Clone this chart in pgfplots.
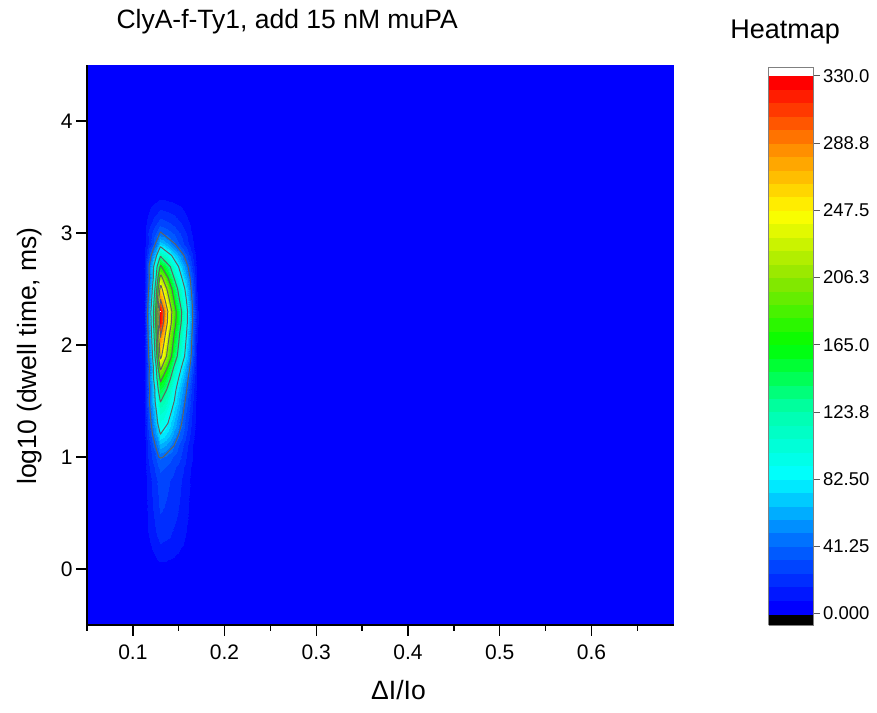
\documentclass[border=0pt]{standalone}
\usepackage{fontspec}
\setmainfont{Liberation Sans}
\usepackage{pgfplots}
\pgfplotsset{compat=1.18}
\usepackage{pgfplotstable}

\pgfplotsset{
colormap={originbands}{
rgb255(0pt)=(0,0,0)
rgb255(6.5pt)=(0,0,255)
rgb255(15.25pt)=(0,23,255)
rgb255(23.5pt)=(0,45,255)
rgb255(31.75pt)=(0,68,255)
rgb255(40pt)=(0,90,255)
rgb255(48.25pt)=(0,114,255)
rgb255(56.5pt)=(0,143,255)
rgb255(64.75pt)=(0,173,255)
rgb255(73pt)=(0,203,255)
rgb255(81.25pt)=(0,233,255)
rgb255(89.5pt)=(0,255,251)
rgb255(97.75pt)=(0,255,233)
rgb255(106pt)=(0,255,216)
rgb255(114.25pt)=(0,255,198)
rgb255(122.5pt)=(0,255,181)
rgb255(130.75pt)=(0,255,157)
rgb255(139pt)=(0,255,122)
rgb255(147.25pt)=(0,255,87)
rgb255(155.5pt)=(0,255,52)
rgb255(163.75pt)=(0,255,18)
rgb255(172pt)=(14,252,0)
rgb255(180.25pt)=(43,247,0)
rgb255(188.5pt)=(72,242,0)
rgb255(196.75pt)=(101,237,0)
rgb255(205pt)=(129,232,0)
rgb255(213.25pt)=(155,233,0)
rgb255(221.5pt)=(178,238,0)
rgb255(229.75pt)=(202,243,0)
rgb255(238pt)=(226,249,0)
rgb255(246.25pt)=(249,254,0)
rgb255(254.5pt)=(255,237,0)
rgb255(262.75pt)=(255,214,0)
rgb255(271pt)=(255,190,0)
rgb255(279.25pt)=(255,167,0)
rgb255(287.5pt)=(255,143,0)
rgb255(295.75pt)=(255,115,0)
rgb255(304pt)=(255,86,0)
rgb255(312.25pt)=(255,57,0)
rgb255(320.5pt)=(255,29,0)
rgb255(328.75pt)=(255,0,0)
rgb255(337pt)=(255,255,255)
rgb255(342.5pt)=(255,255,255)
},
contourline/.style={draw=black!62, line width=1pt, line join=round, solid, mark=none},
}

\pgfplotstableread[row sep=\\]{
x y z\\
0.05 -0.5 0\\ 0.106 -0.5 0\\ 0.112 -0.5 0\\ 0.117 -0.5 0\\ 0.121 -0.5 0\\ 0.125 -0.5 0\\ 0.128 -0.5 0\\ 0.130 -0.5 0\\ 0.1335 -0.5 0\\ 0.138 -0.5 0\\ 0.145 -0.5 0\\ 0.151 -0.5 0\\ 0.158 -0.5 0\\ 0.164 -0.5 0\\ 0.170 -0.5 0\\ 0.176 -0.5 0\\ 0.69 -0.5 0\\
0.05 -0.1 0\\ 0.106 -0.1 0\\ 0.112 -0.1 0\\ 0.117 -0.1 0\\ 0.121 -0.1 0\\ 0.125 -0.1 0\\ 0.128 -0.1 0\\ 0.130 -0.1 0\\ 0.1335 -0.1 0\\ 0.138 -0.1 0\\ 0.145 -0.1 0\\ 0.151 -0.1 0\\ 0.158 -0.1 0\\ 0.164 -0.1 0\\ 0.170 -0.1 0\\ 0.176 -0.1 0\\ 0.69 -0.1 0\\
0.05 0.1 0\\ 0.106 0.1 0\\ 0.112 0.1 1\\ 0.117 0.1 4\\ 0.121 0.1 6\\ 0.125 0.1 8\\ 0.128 0.1 10\\ 0.130 0.1 10\\ 0.1335 0.1 10\\ 0.138 0.1 9\\ 0.145 0.1 8\\ 0.151 0.1 6\\ 0.158 0.1 4\\ 0.164 0.1 2\\ 0.170 0.1 1\\ 0.176 0.1 0\\ 0.69 0.1 0\\
0.05 0.3 0\\ 0.106 0.3 0\\ 0.112 0.3 2\\ 0.117 0.3 8\\ 0.121 0.3 12\\ 0.125 0.3 16\\ 0.128 0.3 19\\ 0.130 0.3 20\\ 0.1335 0.3 19\\ 0.138 0.3 18\\ 0.145 0.3 15\\ 0.151 0.3 12\\ 0.158 0.3 8\\ 0.164 0.3 4\\ 0.170 0.3 1\\ 0.176 0.3 0\\ 0.69 0.3 0\\
0.05 0.5 0\\ 0.106 0.5 0\\ 0.112 0.5 3\\ 0.117 0.5 10\\ 0.121 0.5 15\\ 0.125 0.5 20\\ 0.128 0.5 24\\ 0.130 0.5 25\\ 0.1335 0.5 24\\ 0.138 0.5 22\\ 0.145 0.5 19\\ 0.151 0.5 15\\ 0.158 0.5 10\\ 0.164 0.5 5\\ 0.170 0.5 1\\ 0.176 0.5 0\\ 0.69 0.5 0\\
0.05 0.7 0\\ 0.106 0.7 0\\ 0.112 0.7 3\\ 0.117 0.7 11\\ 0.121 0.7 17\\ 0.125 0.7 22\\ 0.128 0.7 27\\ 0.130 0.7 28\\ 0.1335 0.7 27\\ 0.138 0.7 25\\ 0.145 0.7 21\\ 0.151 0.7 17\\ 0.158 0.7 11\\ 0.164 0.7 6\\ 0.170 0.7 1\\ 0.176 0.7 0\\ 0.69 0.7 0\\
0.05 0.8 0\\ 0.106 0.8 0\\ 0.112 0.8 3\\ 0.117 0.8 12\\ 0.121 0.8 18\\ 0.125 0.8 24\\ 0.128 0.8 29\\ 0.130 0.8 30\\ 0.1335 0.8 29\\ 0.138 0.8 26\\ 0.145 0.8 23\\ 0.151 0.8 18\\ 0.158 0.8 12\\ 0.164 0.8 6\\ 0.170 0.8 2\\ 0.176 0.8 0\\ 0.69 0.8 0\\
0.05 0.9 0\\ 0.106 0.9 0\\ 0.112 0.9 4\\ 0.117 0.9 14\\ 0.121 0.9 21\\ 0.125 0.9 28\\ 0.128 0.9 33\\ 0.130 0.9 35\\ 0.1335 0.9 33\\ 0.138 0.9 31\\ 0.145 0.9 26\\ 0.151 0.9 21\\ 0.158 0.9 14\\ 0.164 0.9 7\\ 0.170 0.9 2\\ 0.176 0.9 0\\ 0.69 0.9 0\\
0.05 1.0 0\\ 0.106 1.0 0\\ 0.112 1.0 4\\ 0.117 1.0 17\\ 0.121 1.0 26\\ 0.125 1.0 34\\ 0.128 1.0 41\\ 0.130 1.0 43\\ 0.1335 1.0 41\\ 0.138 1.0 38\\ 0.145 1.0 32\\ 0.151 1.0 26\\ 0.158 1.0 17\\ 0.164 1.0 9\\ 0.170 1.0 2\\ 0.176 1.0 0\\ 0.69 1.0 0\\
0.05 1.1 0\\ 0.106 1.1 0\\ 0.112 1.1 3\\ 0.117 1.1 17\\ 0.121 1.1 30\\ 0.125 1.1 43\\ 0.128 1.1 56\\ 0.130 1.1 62\\ 0.1335 1.1 59\\ 0.138 1.1 53\\ 0.145 1.1 41\\ 0.151 1.1 30\\ 0.158 1.1 19\\ 0.164 1.1 9\\ 0.170 1.1 2\\ 0.176 1.1 0\\ 0.69 1.1 0\\
0.05 1.2 0\\ 0.106 1.2 0\\ 0.112 1.2 4\\ 0.117 1.2 23\\ 0.121 1.2 39\\ 0.125 1.2 57\\ 0.128 1.2 74\\ 0.130 1.2 82\\ 0.1335 1.2 78\\ 0.138 1.2 70\\ 0.145 1.2 54\\ 0.151 1.2 39\\ 0.158 1.2 25\\ 0.164 1.2 12\\ 0.170 1.2 3\\ 0.176 1.2 0\\ 0.69 1.2 0\\
0.05 1.3 0\\ 0.106 1.3 0\\ 0.112 1.3 5\\ 0.117 1.3 27\\ 0.121 1.3 47\\ 0.125 1.3 69\\ 0.128 1.3 88\\ 0.130 1.3 98\\ 0.1335 1.3 93\\ 0.138 1.3 83\\ 0.145 1.3 65\\ 0.151 1.3 47\\ 0.158 1.3 29\\ 0.164 1.3 15\\ 0.170 1.3 4\\ 0.176 1.3 0\\ 0.69 1.3 0\\
0.05 1.4 0\\ 0.106 1.4 0\\ 0.112 1.4 6\\ 0.117 1.4 31\\ 0.121 1.4 53\\ 0.125 1.4 77\\ 0.128 1.4 99\\ 0.130 1.4 110\\ 0.1335 1.4 105\\ 0.138 1.4 94\\ 0.145 1.4 73\\ 0.151 1.4 53\\ 0.158 1.4 33\\ 0.164 1.4 17\\ 0.170 1.4 4\\ 0.176 1.4 0\\ 0.69 1.4 0\\
0.05 1.5 0\\ 0.106 1.5 0\\ 0.112 1.5 6\\ 0.117 1.5 35\\ 0.121 1.5 60\\ 0.125 1.5 88\\ 0.128 1.5 113\\ 0.130 1.5 125\\ 0.1335 1.5 119\\ 0.138 1.5 106\\ 0.145 1.5 83\\ 0.151 1.5 60\\ 0.158 1.5 38\\ 0.164 1.5 19\\ 0.170 1.5 5\\ 0.176 1.5 0\\ 0.69 1.5 0\\
0.05 1.6 0\\ 0.106 1.6 0\\ 0.112 1.6 5\\ 0.117 1.6 32\\ 0.121 1.6 58\\ 0.125 1.6 91\\ 0.128 1.6 127\\ 0.130 1.6 148\\ 0.1335 1.6 137\\ 0.138 1.6 119\\ 0.145 1.6 90\\ 0.151 1.6 67\\ 0.158 1.6 44\\ 0.164 1.6 22\\ 0.170 1.6 5\\ 0.176 1.6 0\\ 0.69 1.6 0\\
0.05 1.7 0\\ 0.106 1.7 0\\ 0.112 1.7 6\\ 0.117 1.7 37\\ 0.121 1.7 67\\ 0.125 1.7 106\\ 0.128 1.7 148\\ 0.130 1.7 172\\ 0.1335 1.7 159\\ 0.138 1.7 138\\ 0.145 1.7 105\\ 0.151 1.7 77\\ 0.158 1.7 51\\ 0.164 1.7 26\\ 0.170 1.7 6\\ 0.176 1.7 0\\ 0.69 1.7 0\\
0.05 1.8 0\\ 0.106 1.8 0\\ 0.112 1.8 4\\ 0.117 1.8 32\\ 0.121 1.8 65\\ 0.125 1.8 114\\ 0.128 1.8 176\\ 0.130 1.8 215\\ 0.1335 1.8 194\\ 0.138 1.8 163\\ 0.145 1.8 120\\ 0.151 1.8 90\\ 0.158 1.8 62\\ 0.164 1.8 32\\ 0.170 1.8 6\\ 0.176 1.8 0\\ 0.69 1.8 0\\
0.05 1.9 0\\ 0.106 1.9 0\\ 0.112 1.9 5\\ 0.117 1.9 39\\ 0.121 1.9 77\\ 0.125 1.9 137\\ 0.128 1.9 212\\ 0.130 1.9 258\\ 0.1335 1.9 232\\ 0.138 1.9 196\\ 0.145 1.9 144\\ 0.151 1.9 108\\ 0.158 1.9 75\\ 0.164 1.9 39\\ 0.170 1.9 8\\ 0.176 1.9 0\\ 0.69 1.9 0\\
0.05 2.0 0\\ 0.106 2.0 0\\ 0.112 2.0 6\\ 0.117 2.0 41\\ 0.121 2.0 83\\ 0.125 2.0 146\\ 0.128 2.0 226\\ 0.130 2.0 275\\ 0.1335 2.0 248\\ 0.138 2.0 209\\ 0.145 2.0 154\\ 0.151 2.0 116\\ 0.158 2.0 80\\ 0.164 2.0 41\\ 0.170 2.0 8\\ 0.176 2.0 0\\ 0.69 2.0 0\\
0.05 2.1 0\\ 0.106 2.1 0\\ 0.112 2.1 6\\ 0.117 2.1 44\\ 0.121 2.1 89\\ 0.125 2.1 156\\ 0.128 2.1 242\\ 0.130 2.1 295\\ 0.1335 2.1 266\\ 0.138 2.1 224\\ 0.145 2.1 165\\ 0.151 2.1 124\\ 0.158 2.1 86\\ 0.164 2.1 44\\ 0.170 2.1 9\\ 0.176 2.1 0\\ 0.69 2.1 0\\
0.05 2.2 0\\ 0.106 2.2 0\\ 0.112 2.2 6\\ 0.117 2.2 48\\ 0.121 2.2 96\\ 0.125 2.2 170\\ 0.128 2.2 262\\ 0.130 2.2 324\\ 0.1335 2.2 288\\ 0.138 2.2 243\\ 0.145 2.2 179\\ 0.151 2.2 134\\ 0.158 2.2 93\\ 0.164 2.2 48\\ 0.170 2.2 10\\ 0.176 2.2 0\\ 0.69 2.2 0\\
0.05 2.3 0\\ 0.106 2.3 0\\ 0.112 2.3 7\\ 0.117 2.3 49\\ 0.121 2.3 98\\ 0.125 2.3 173\\ 0.128 2.3 267\\ 0.130 2.3 330\\ 0.1335 2.3 293\\ 0.138 2.3 248\\ 0.145 2.3 183\\ 0.151 2.3 137\\ 0.158 2.3 95\\ 0.164 2.3 49\\ 0.170 2.3 10\\ 0.176 2.3 0\\ 0.69 2.3 0\\
0.05 2.4 0\\ 0.106 2.4 0\\ 0.112 2.4 6\\ 0.117 2.4 44\\ 0.121 2.4 88\\ 0.125 2.4 155\\ 0.128 2.4 239\\ 0.130 2.4 292\\ 0.1335 2.4 263\\ 0.138 2.4 222\\ 0.145 2.4 164\\ 0.151 2.4 123\\ 0.158 2.4 85\\ 0.164 2.4 44\\ 0.170 2.4 9\\ 0.176 2.4 0\\ 0.69 2.4 0\\
0.05 2.5 0\\ 0.106 2.5 0\\ 0.112 2.5 5\\ 0.117 2.5 39\\ 0.121 2.5 79\\ 0.125 2.5 139\\ 0.128 2.5 215\\ 0.130 2.5 262\\ 0.1335 2.5 236\\ 0.138 2.5 199\\ 0.145 2.5 147\\ 0.151 2.5 110\\ 0.158 2.5 76\\ 0.164 2.5 39\\ 0.170 2.5 8\\ 0.176 2.5 0\\ 0.69 2.5 0\\
0.05 2.6 0\\ 0.106 2.6 0\\ 0.112 2.6 4\\ 0.117 2.6 33\\ 0.121 2.6 66\\ 0.125 2.6 117\\ 0.128 2.6 180\\ 0.130 2.6 220\\ 0.1335 2.6 198\\ 0.138 2.6 167\\ 0.145 2.6 123\\ 0.151 2.6 92\\ 0.158 2.6 64\\ 0.164 2.6 33\\ 0.170 2.6 7\\ 0.176 2.6 0\\ 0.69 2.6 0\\
0.05 2.7 0\\ 0.106 2.7 0\\ 0.112 2.7 6\\ 0.117 2.7 37\\ 0.121 2.7 66\\ 0.125 2.7 105\\ 0.128 2.7 146\\ 0.130 2.7 170\\ 0.1335 2.7 157\\ 0.138 2.7 137\\ 0.145 2.7 104\\ 0.151 2.7 77\\ 0.158 2.7 50\\ 0.164 2.7 26\\ 0.170 2.7 6\\ 0.176 2.7 0\\ 0.69 2.7 0\\
0.05 2.8 0\\ 0.106 2.8 0\\ 0.112 2.8 4\\ 0.117 2.8 26\\ 0.121 2.8 47\\ 0.125 2.8 74\\ 0.128 2.8 103\\ 0.130 2.8 120\\ 0.1335 2.8 111\\ 0.138 2.8 97\\ 0.145 2.8 73\\ 0.151 2.8 54\\ 0.158 2.8 35\\ 0.164 2.8 18\\ 0.170 2.8 4\\ 0.176 2.8 0\\ 0.69 2.8 0\\
0.05 2.9 0\\ 0.106 2.9 0\\ 0.112 2.9 3\\ 0.117 2.9 15\\ 0.121 2.9 28\\ 0.125 2.9 44\\ 0.128 2.9 62\\ 0.130 2.9 72\\ 0.1335 2.9 67\\ 0.138 2.9 58\\ 0.145 2.9 44\\ 0.151 2.9 32\\ 0.158 2.9 21\\ 0.164 2.9 11\\ 0.170 2.9 3\\ 0.176 2.9 0\\ 0.69 2.9 0\\
0.05 3.0 0\\ 0.106 3.0 0\\ 0.112 3.0 4\\ 0.117 3.0 17\\ 0.121 3.0 25\\ 0.125 3.0 34\\ 0.128 3.0 40\\ 0.130 3.0 42\\ 0.1335 3.0 40\\ 0.138 3.0 37\\ 0.145 3.0 32\\ 0.151 3.0 25\\ 0.158 3.0 17\\ 0.164 3.0 8\\ 0.170 3.0 2\\ 0.176 3.0 0\\ 0.69 3.0 0\\
0.05 3.1 0\\ 0.106 3.1 0\\ 0.112 3.1 3\\ 0.117 3.1 11\\ 0.121 3.1 17\\ 0.125 3.1 22\\ 0.128 3.1 27\\ 0.130 3.1 28\\ 0.1335 3.1 27\\ 0.138 3.1 25\\ 0.145 3.1 21\\ 0.151 3.1 17\\ 0.158 3.1 11\\ 0.164 3.1 6\\ 0.170 3.1 1\\ 0.176 3.1 0\\ 0.69 3.1 0\\
0.05 3.2 0\\ 0.106 3.2 0\\ 0.112 3.2 2\\ 0.117 3.2 7\\ 0.121 3.2 11\\ 0.125 3.2 14\\ 0.128 3.2 17\\ 0.130 3.2 18\\ 0.1335 3.2 17\\ 0.138 3.2 16\\ 0.145 3.2 14\\ 0.151 3.2 11\\ 0.158 3.2 7\\ 0.164 3.2 4\\ 0.170 3.2 1\\ 0.176 3.2 0\\ 0.69 3.2 0\\
0.05 3.3 0\\ 0.106 3.3 0\\ 0.112 3.3 1\\ 0.117 3.3 3\\ 0.121 3.3 5\\ 0.125 3.3 6\\ 0.128 3.3 8\\ 0.130 3.3 8\\ 0.1335 3.3 8\\ 0.138 3.3 7\\ 0.145 3.3 6\\ 0.151 3.3 5\\ 0.158 3.3 3\\ 0.164 3.3 2\\ 0.170 3.3 0\\ 0.176 3.3 0\\ 0.69 3.3 0\\
0.05 3.45 0\\ 0.106 3.45 0\\ 0.112 3.45 0\\ 0.117 3.45 0\\ 0.121 3.45 0\\ 0.125 3.45 0\\ 0.128 3.45 0\\ 0.130 3.45 0\\ 0.1335 3.45 0\\ 0.138 3.45 0\\ 0.145 3.45 0\\ 0.151 3.45 0\\ 0.158 3.45 0\\ 0.164 3.45 0\\ 0.170 3.45 0\\ 0.176 3.45 0\\ 0.69 3.45 0\\
0.05 4.5 0\\ 0.106 4.5 0\\ 0.112 4.5 0\\ 0.117 4.5 0\\ 0.121 4.5 0\\ 0.125 4.5 0\\ 0.128 4.5 0\\ 0.130 4.5 0\\ 0.1335 4.5 0\\ 0.138 4.5 0\\ 0.145 4.5 0\\ 0.151 4.5 0\\ 0.158 4.5 0\\ 0.164 4.5 0\\ 0.170 4.5 0\\ 0.176 4.5 0\\ 0.69 4.5 0\\
}\heatdata

\begin{document}
\begin{tikzpicture}
\begin{axis}[
  name=main,
  scale only axis, width=587pt, height=560pt,
  xmin=0.05, xmax=0.69, ymin=-0.5, ymax=4.5,
  axis x line=bottom, axis y line=left,
  axis line style={-, black, line width=1.5pt},
  axis on top,
  xtick={0.1,0.2,0.3,0.4,0.5,0.6},
  minor xtick={0.05,0.15,0.25,0.35,0.45,0.55,0.65},
  ytick={0,1,2,3,4},
  tick align=outside, major tick length=11pt, minor tick length=6pt,
  tick style={black, line width=1.5pt},
  /pgf/number format/assume math mode=true,
  tick label style={font=\fontsize{21}{25}\selectfont},
  xticklabel style={yshift=-5pt},
  title={ClyA-f-Ty1, add 15 nM muPA},
  title style={font=\fontsize{26.5}{30}\selectfont, at={(axis description cs:0,1)}, anchor=base west, xshift=26pt, yshift=30pt},
  xlabel={ΔI/Io},
  xlabel style={font=\fontsize{26.5}{30}\selectfont, at={([xshift=18pt,yshift=-75pt]axis description cs:0.5,0)}, anchor=base},
  ylabel={log10 (dwell time, ms)},
  ylabel style={font=\fontsize{26.5}{30}\selectfont, at={([xshift=-50pt,yshift=-11pt]axis description cs:0,0.5)}, anchor=base},
  colormap name=originbands,
  colormap access=piecewise constant,
  point meta min=-7, point meta max=335.5,
  colorbar,
  colorbar style={
    scale only axis, width=45pt, height=558pt,
    at={(parent axis.north east)}, anchor=north west, xshift=86pt, yshift=-2pt,
    ytick={0,41.25,82.5,123.75,165,206.25,247.5,288.75,330},
    yticklabels={0.000,41.25,82.50,123.8,165.0,206.3,247.5,288.8,330.0},
    ytick pos=right, yticklabel pos=right,
    yticklabel style={font=\fontsize{18.5}{22}\selectfont},
    tick align=outside, major tick length=6pt,
    tick style={draw=black!65, line width=0.9pt},
    axis line style={draw=black!50, line width=0.9pt},
    title={Heatmap},
    title style={font=\fontsize{27}{30}\selectfont, at={(axis description cs:0.5,1)}, anchor=base, yshift=22pt, xshift=-6pt},
  },
]
\addplot[surf, shader=interp, mesh/cols=17, point meta=explicit]
  table[x=x, y=y, meta=z] {\heatdata};

\addplot[contourline] coordinates {(0.1300,3.01) (0.1464,2.9) (0.1557,2.8) (0.1602,2.7) (0.1624,2.6) (0.1636,2.5) (0.1645,2.4) (0.1652,2.3) (0.1651,2.2) (0.1645,2.1) (0.1640,2.0) (0.1636,1.9) (0.1621,1.8) (0.1603,1.7) (0.1588,1.6) (0.1570,1.5) (0.1551,1.4) (0.1532,1.3) (0.1501,1.2) (0.1449,1.1) (0.1331,1.0) (0.1305,0.99) (0.1283,1.0) (0.1245,1.1) (0.1215,1.2) (0.1199,1.3) (0.1189,1.4) (0.1180,1.5) (0.1184,1.6) (0.1176,1.7) (0.1181,1.8) (0.1172,1.9) (0.1170,2.0) (0.1166,2.1) (0.1162,2.2) (0.1161,2.3) (0.1166,2.4) (0.1172,2.5) (0.1180,2.6) (0.1176,2.7) (0.1199,2.8) (0.1243,2.9) (0.1300,3.01)};
\addplot[contourline] coordinates {(0.130,2.878) (0.1422,2.8) (0.1498,2.7) (0.1534,2.6) (0.1567,2.5) (0.1584,2.4) (0.1596,2.3) (0.1594,2.2) (0.1585,2.1) (0.1575,2.0) (0.1564,1.9) (0.1529,1.8) (0.1498,1.7) (0.1470,1.6) (0.1451,1.5) (0.1418,1.4) (0.1382,1.3) (0.130,1.203) (0.1271,1.3) (0.1258,1.4) (0.1242,1.5) (0.1240,1.6) (0.1226,1.7) (0.1224,1.8) (0.1214,1.9) (0.1209,2.0) (0.1204,2.1) (0.1199,2.2) (0.1197,2.3) (0.1205,2.4) (0.1212,2.5) (0.1223,2.6) (0.1227,2.7) (0.1259,2.8) (0.130,2.878)};
\addplot[contourline] coordinates {(0.130,2.792) (0.1408,2.7) (0.1449,2.6) (0.1488,2.5) (0.1509,2.4) (0.1532,2.3) (0.1527,2.2) (0.1510,2.1) (0.1498,2.0) (0.1484,1.9) (0.1444,1.8) (0.1410,1.7) (0.1368,1.6) (0.1307,1.5) (0.1302,1.492) (0.1298,1.5) (0.1277,1.6) (0.1263,1.7) (0.1255,1.8) (0.1241,1.9) (0.1236,2.0) (0.1231,2.1) (0.1225,2.2) (0.1224,2.3) (0.1231,2.4) (0.1240,2.5) (0.1253,2.6) (0.1264,2.7) (0.130,2.792)};
\addplot[contourline] coordinates {(0.1303,2.71) (0.1313,2.7) (0.1383,2.6) (0.1426,2.5) (0.1449,2.4) (0.1473,2.3) (0.1469,2.2) (0.1450,2.1) (0.1436,2.0) (0.1422,1.9) (0.1377,1.8) (0.1319,1.7) (0.1303,1.671) (0.1294,1.7) (0.1275,1.8) (0.1261,1.9) (0.1257,2.0) (0.1253,2.1) (0.1247,2.2) (0.1246,2.3) (0.1254,2.4) (0.1260,2.5) (0.1273,2.6) (0.1296,2.7) (0.1303,2.71)};
\addplot[contourline] coordinates {(0.1305,2.627) (0.1322,2.6) (0.1371,2.5) (0.1399,2.4) (0.1425,2.3) (0.1420,2.2) (0.1401,2.1) (0.1383,2.0) (0.1367,1.9) (0.1315,1.8) (0.1303,1.78) (0.1296,1.8) (0.1278,1.9) (0.1273,2.0) (0.1268,2.1) (0.1262,2.2) (0.1261,2.3) (0.1268,2.4) (0.1277,2.5) (0.1293,2.6) (0.1305,2.627)};
\addplot[contourline] coordinates {(0.1305,2.535) (0.1320,2.5) (0.1352,2.4) (0.1381,2.3) (0.1376,2.2) (0.1355,2.1) (0.1336,2.0) (0.1314,1.9) (0.1303,1.876) (0.1295,1.9) (0.1289,2.0) (0.1282,2.1) (0.1275,2.2) (0.1274,2.3) (0.1283,2.4) (0.1294,2.5) (0.1305,2.535)};
\addplot[contourline] coordinates {(0.1301,2.411) (0.1304,2.4) (0.1339,2.3) (0.1334,2.2) (0.1307,2.1) (0.1301,2.069) (0.1298,2.1) (0.1289,2.2) (0.1287,2.3) (0.1299,2.4) (0.1301,2.411)};
\end{axis}
\path ([xshift=-87pt,yshift=-88pt]main.south west) rectangle ([xshift=203pt,yshift=65pt]main.north east);
\end{tikzpicture}
\end{document}
